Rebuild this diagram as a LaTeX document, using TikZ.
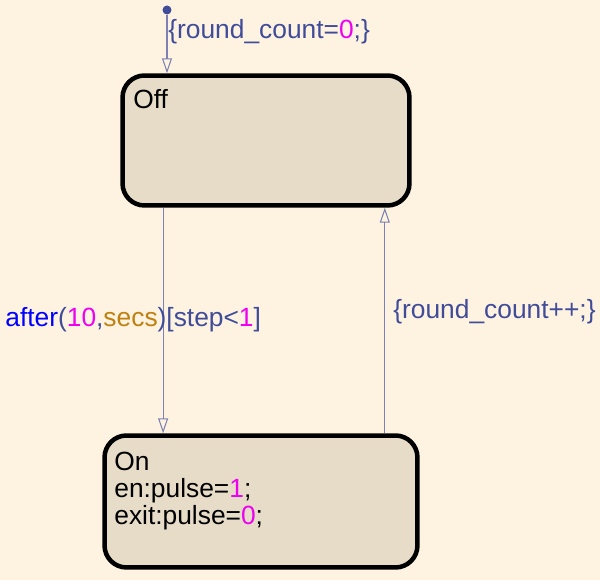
\documentclass[tikz,border=0pt]{standalone}
\usepackage{fontspec}
\setmainfont{Liberation Sans}
\usepackage{tikz}
\usetikzlibrary{arrows.meta,calc}
\definecolor{chartbg}{HTML}{FDF3E0}
\definecolor{statefill}{HTML}{E6DCC7}
\definecolor{transline}{HTML}{7C80B4}
\definecolor{translabel}{HTML}{404C9A}
\definecolor{numcol}{HTML}{F000F0}
\definecolor{funcol}{HTML}{0000FF}
\definecolor{unitcol}{HTML}{C08010}
\newcommand{\sfnum}[1]{\textcolor{numcol}{#1}}

\begin{document}
\begin{tikzpicture}[x=0.02cm, y=-0.02cm, >={Triangle[open,length=0.3cm,width=0.2cm]},
  state/.style={draw, line width=0.09cm, rounded corners=0.44cm, fill=statefill, inner sep=0},
  statetext/.style={anchor=north west, inner sep=0, align=left, font=\fontsize{15}{15.4}\selectfont},
  trans/.style={draw=transline, line width=0.6pt},
  translbl/.style={anchor=west, inner sep=0, text=translabel, font=\fontsize{15}{16}\selectfont}]
  \fill[chartbg] (0,0) rectangle (600,580);
  % Nodes
  \node[state, minimum width=5.74cm, minimum height=2.6cm](off) at (266,140.5){};
  \node[state, minimum width=6.26cm, minimum height=2.64cm](on) at (261,501.5){};
  \node[statetext](offtext) at (133,89){Off};
  \node[statetext](ontext) at (114,452){On\\en:pulse=\sfnum{1};\\exit:pulse=\sfnum{0};};
  \node[circle, fill=translabel, inner sep=0, minimum size=0.18cm](init) at (167,10){};
  \coordinate (offout) at ($(off.south west)!0.147!(off.south east)$);
  \coordinate (onout) at ($(on.north west)!0.89!(on.north east)$);
  % Edges
  \draw[trans,->](init)--(init |- off.north);
  \draw[trans,->](offout)--(offout |- on.north);
  \draw[trans,->](onout)--(onout |- off.south);
  \node[translbl](initlbl) at (168,32){\{round\_count=\sfnum{0};\}};
  \node[translbl](offonlbl) at (5,320){\textcolor{funcol}{after}(\sfnum{10},\textcolor{unitcol}{secs})[step<\sfnum{1}]};
  \node[translbl](onofflbl) at (393,312){\{round\_count++;\}};
\end{tikzpicture}
\end{document}
